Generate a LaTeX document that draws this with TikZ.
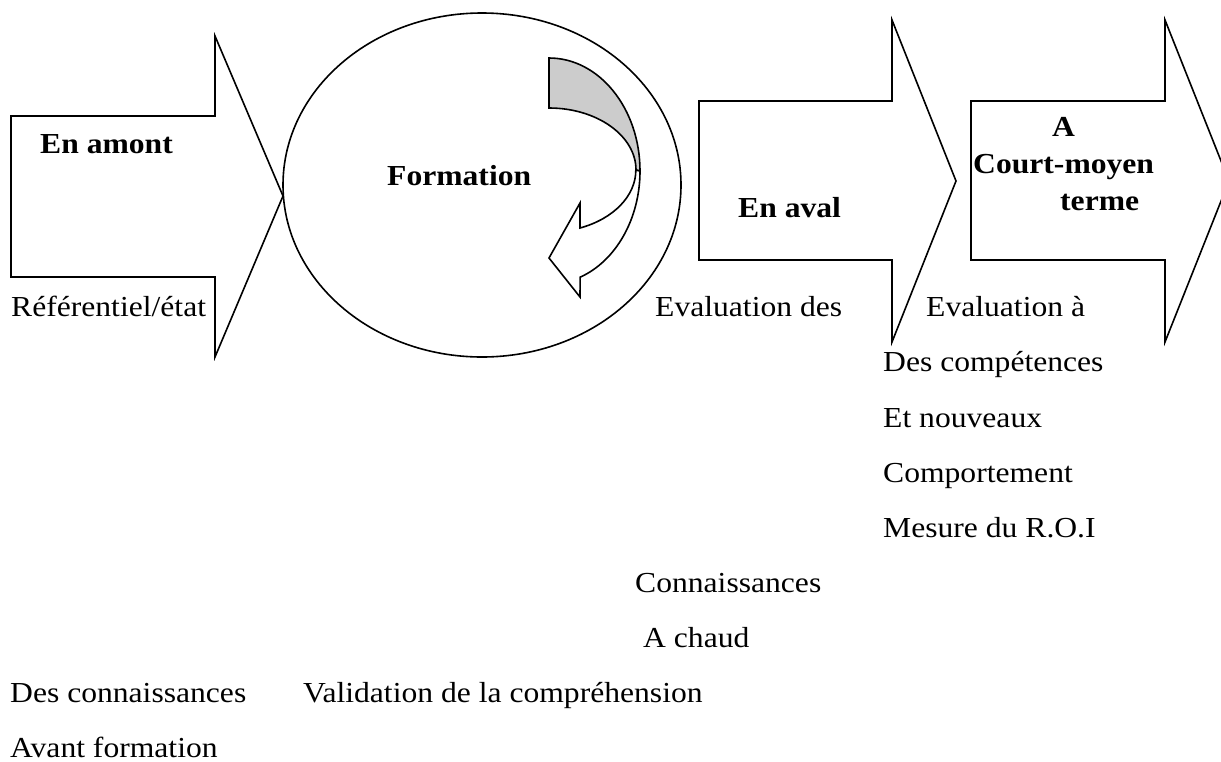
\documentclass[tikz,border=0pt]{standalone}
\usepackage{fontspec}
\setmainfont[FakeStretch=1.09]{Liberation Serif}

\begin{document}
\begin{tikzpicture}[x=1pt,y=-1pt,
		outline/.style={draw, line width=1.6pt, line join=miter},
		txt/.style={font=\fontsize{29}{34}\selectfont, anchor=base west, inner sep=0pt},
		btxt/.style={txt, font=\fontsize{29}{34}\selectfont\bfseries}]

		\useasboundingbox (0,0) rectangle (1221,761);
		\clip (0,0) rectangle (1221,761);

		% block arrows and circle
		\draw[outline] (11,116) -- (215,116) -- (215,36) -- (283,196) -- (215,357) -- (215,277) -- (11,277) -- cycle;
		\draw[outline] (482,185) ellipse [x radius=199, y radius=172];
		\draw[outline] (699,101) -- (892,101) -- (892,20) -- (956,181) -- (892,342) -- (892,260) -- (699,260) -- cycle;
		\draw[outline] (971,101) -- (1165,101) -- (1165,20) -- (1229,181) -- (1165,342) -- (1165,260) -- (971,260) -- cycle;

		% curved arrow in the circle
		\filldraw[outline, fill=gray!40] (549,58) arc[start angle=-90, end angle=0, x radius=91, y radius=113]
			-- (636,170) arc[start angle=0, end angle=-90, x radius=87, y radius=62] -- cycle;
		\filldraw[outline, fill=white] (640,171) arc[start angle=0, end angle=70, x radius=91, y radius=113]
			-- (580,297) -- (549,258) -- (580,203) -- (580,228)
			arc[start angle=69, end angle=0, x radius=87, y radius=62] -- cycle;

		\node[btxt] (amont) at (40,153) {En amont};
		\node[btxt] (formation) at (387,185) {Formation};
		\node[btxt] (aval) at (738,217) {En aval};
		\node[btxt] (termA) at (1052,136) {A};
		\node[btxt] (termB) at (973,173) {Court-moyen};
		\node[btxt] (termC) at (1060,210) {terme};

		\node[txt] (referentiel) at (11,316) {Référentiel/état};
		\node[txt] (evaldes) at (655,316) {Evaluation des};
		\node[txt] (evala) at (926,316) {Evaluation à};
		\node[txt] (competences) at (883,371) {Des compétences};
		\node[txt] (nouveaux) at (883,427) {Et nouveaux};
		\node[txt] (comportement) at (883,482) {Comportement};
		\node[txt] (roi) at (883,537) {Mesure du R.O.I};
		\node[txt] (connaissances) at (635,592) {Connaissances};
		\node[txt] (chaud) at (643,647) {A chaud};
		\node[txt] (desconn) at (10,702) {Des connaissances};
		\node[txt] (validation) at (303,702) {Validation de la compréhension};
		\node[txt] (avant) at (10,757) {Avant formation};
	\end{tikzpicture}
\end{document}
